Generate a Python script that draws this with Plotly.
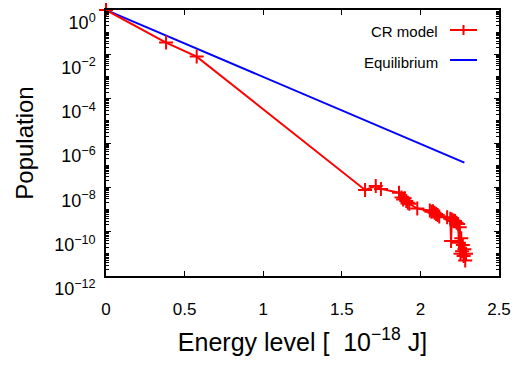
import plotly.graph_objects as go

# CR model: energy levels [1e-18 J] and populations
cr_energy = [0.0, 0.382, 0.577, 1.648, 1.716, 1.749, 1.864, 1.880, 1.890, 1.900,
             1.910, 1.920, 1.930, 1.980, 2.060, 2.070, 2.080, 2.090, 2.100, 2.110,
             2.120, 2.170, 2.190, 2.195, 2.200, 2.210, 2.220, 2.230, 2.240, 2.245,
             2.250, 2.255, 2.260, 2.265, 2.270, 2.275, 2.280, 2.285, 2.290]
cr_pop = [1.0, 3.4e-2, 7.9e-3, 7.6e-9, 1.15e-8, 8.5e-9, 5.7e-9, 3.5e-9, 2.8e-9, 3.2e-9,
          2.4e-9, 2.0e-9, 1.8e-9, 1.1e-9, 8.9e-10, 7.9e-10, 8.3e-10, 7.1e-10, 6.3e-10, 5.6e-10,
          4.8e-10, 4.5e-10, 3.8e-10, 3.8e-11, 3.5e-10, 3.2e-10, 3.0e-10, 2.5e-10, 2.2e-10, 3.2e-11,
          1.6e-10, 1.0e-11, 5.0e-11, 1.3e-11, 2.5e-11, 8.0e-12, 1.6e-11, 5.0e-12, 1.0e-11]

# Equilibrium (Boltzmann) distribution
eq_energy = [0.0, 2.28]
eq_pop = [1.0, 1.3e-7]

x_ticks = [0, 0.5, 1, 1.5, 2, 2.5]
x_ticktext = ["0", "0.5", "1", "1.5", "2", "2.5"]
y_ticks = [1e0, 1e-2, 1e-4, 1e-6, 1e-8, 1e-10, 1e-12]
y_ticktext = ["10<sup>0</sup>", "10<sup>−2</sup>", "10<sup>−4</sup>", "10<sup>−6</sup>",
              "10<sup>−8</sup>", "10<sup>−10</sup>", "10<sup>−12</sup>"]

FONT = "Liberation Sans"

fig = go.Figure()
fig.add_trace(go.Scatter(x=eq_energy, y=eq_pop, mode="lines", name="Equilibrium",
                         line=dict(color="#0000ff", width=2), showlegend=False))
fig.add_trace(go.Scatter(x=cr_energy, y=cr_pop, mode="lines+markers", name="CR model",
                         line=dict(color="#ff0000", width=2),
                         marker=dict(symbol="cross-thin", size=10,
                                     line=dict(color="#ff0000", width=2)),
                         showlegend=False, cliponaxis=False))

L, R, T, B = 106, 22, 10, 98
W, H = 521, 374
pw, ph = W - L - R, H - T - B

def px(xp):
    return (xp - L) / pw

def py(yp):
    return 1 - (yp - T) / ph

# gnuplot-style key: text right-aligned, sample to the right
shapes = [
    dict(type="line", xref="paper", yref="paper", x0=px(450), x1=px(477), y0=py(30), y1=py(30),
         line=dict(color="#ff0000", width=2)),
    dict(type="line", xref="paper", yref="paper", x0=px(463.5), x1=px(463.5), y0=py(25), y1=py(35),
         line=dict(color="#ff0000", width=2)),
    dict(type="line", xref="paper", yref="paper", x0=px(450), x1=px(477), y0=py(60), y1=py(60),
         line=dict(color="#0000ff", width=2)),
]
annotations = [
    dict(text="CR model", xref="paper", yref="paper", x=px(440), y=py(32), xanchor="right",
         yanchor="middle", showarrow=False, font=dict(family=FONT, size=15, color="black")),
    dict(text="Equilibrium", xref="paper", yref="paper", x=px(440), y=py(62), xanchor="right",
         yanchor="middle", showarrow=False, font=dict(family=FONT, size=15, color="black")),
]

fig.update_layout(
    width=W, height=H,
    margin=dict(l=L, r=R, t=T, b=B),
    paper_bgcolor="white", plot_bgcolor="white",
    font=dict(family=FONT, color="black"),
    shapes=shapes, annotations=annotations,
    xaxis=dict(range=[0, 2.5], tickvals=x_ticks, ticktext=x_ticktext,
               ticks="inside", ticklen=5, tickcolor="black", showgrid=False, zeroline=False,
               showline=True, linecolor="black", linewidth=1.5, mirror="ticks",
               tickfont=dict(size=17), ticklabelstandoff=17, ticklabeloverflow="allow",
               title=dict(text="Energy level [&nbsp;&nbsp;10<sup>−18</sup> J]",
                          font=dict(size=25), standoff=15),
               automargin=False),
    yaxis=dict(type="log", range=[-12.0005, 0.0005], tickvals=y_ticks, ticktext=y_ticktext,
               ticks="inside", ticklen=5, tickcolor="black", showgrid=False, zeroline=False,
               showline=True, linecolor="black", linewidth=1.5, mirror="ticks",
               tickfont=dict(size=18), ticklabelstandoff=5, ticklabeloverflow="allow",
               ticklabelposition="outside bottom",
               minor=dict(ticks="inside", ticklen=3, tickcolor="black", dtick="D1", showgrid=False),
               title=dict(text="Population", font=dict(size=24), standoff=14),
               automargin=False),
)

fig.write_html("out.html")
